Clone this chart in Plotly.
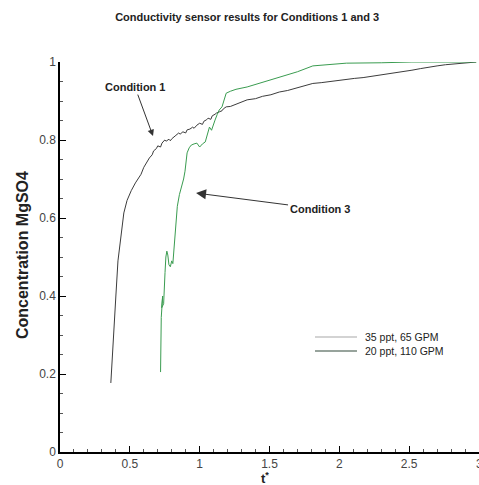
import plotly.graph_objects as go

# Condition 1: 35 ppt, 65 GPM
cond1_t = [0.364, 0.37, 0.38, 0.39, 0.40, 0.415, 0.43, 0.44, 0.457, 0.48, 0.51, 0.54,
           0.56, 0.58, 0.60, 0.62, 0.64, 0.66, 0.67, 0.69, 0.70, 0.72, 0.73, 0.75, 0.76,
           0.78, 0.79, 0.80, 0.82, 0.83, 0.85, 0.86, 0.88, 0.90, 0.91, 0.93, 0.95, 0.96,
           0.98, 1.00, 1.02, 1.03, 1.05, 1.06, 1.08, 1.09, 1.11, 1.12, 1.14, 1.16, 1.17,
           1.19, 1.22, 1.25, 1.29, 1.34, 1.40, 1.45, 1.51, 1.57, 1.63, 1.70, 1.75, 1.81,
           1.87, 1.93, 1.99, 2.05, 2.11, 2.17, 2.23, 2.29, 2.35, 2.40, 2.46, 2.52, 2.58,
           2.64, 2.70, 2.76, 2.82, 2.88, 2.93, 2.98]
cond1_c = [0.177, 0.21, 0.27, 0.33, 0.40, 0.49, 0.54, 0.57, 0.613, 0.645, 0.67, 0.69,
           0.70, 0.712, 0.73, 0.742, 0.754, 0.762, 0.772, 0.778, 0.785, 0.782, 0.792, 0.80,
           0.797, 0.802, 0.798, 0.803, 0.808, 0.812, 0.818, 0.815, 0.821, 0.818, 0.826,
           0.828, 0.833, 0.830, 0.838, 0.843, 0.840, 0.848, 0.852, 0.856, 0.853, 0.862,
           0.866, 0.869, 0.872, 0.875, 0.880, 0.885, 0.886, 0.890, 0.895, 0.903, 0.906,
           0.912, 0.916, 0.923, 0.927, 0.934, 0.938, 0.945, 0.947, 0.950, 0.953, 0.956,
           0.958, 0.960, 0.963, 0.967, 0.970, 0.973, 0.976, 0.979, 0.983, 0.987, 0.990,
           0.993, 0.995, 0.997, 0.999, 1.0]

# Condition 3: 20 ppt, 110 GPM
cond3_t = [0.72, 0.72, 0.722, 0.725, 0.735, 0.728, 0.742, 0.745, 0.752, 0.758, 0.765,
           0.772, 0.78, 0.79, 0.80, 0.808, 0.815, 0.822, 0.83, 0.84, 0.855, 0.87, 0.885,
           0.895, 0.91, 0.925, 0.94, 0.96, 0.98, 1.00, 1.02, 1.04, 1.055, 1.07, 1.085,
           1.10, 1.11, 1.125, 1.14, 1.16, 1.175, 1.19, 1.22, 1.26, 1.34, 1.45, 1.57,
           1.70, 1.81, 1.93, 2.05, 2.30, 2.52, 2.80, 2.98]
cond3_c = [0.205, 0.26, 0.31, 0.345, 0.40, 0.37, 0.38, 0.42, 0.46, 0.50, 0.515,
           0.505, 0.48, 0.475, 0.49, 0.483, 0.52, 0.55, 0.59, 0.63, 0.66, 0.677, 0.70,
           0.72, 0.767, 0.78, 0.787, 0.79, 0.792, 0.782, 0.79, 0.795, 0.815, 0.833, 0.825,
           0.845, 0.851, 0.865, 0.877, 0.885, 0.905, 0.92, 0.925, 0.93, 0.936, 0.948, 0.96,
           0.975, 0.99, 0.994, 0.997, 0.998, 1.0, 1.0, 1.0]

series_names = ["35 ppt, 65 GPM", "20 ppt, 110 GPM"]
legend_colors = ["#c4c4c4", "#75857b"]
x_ticks = [0, 0.5, 1, 1.5, 2, 2.5, 3]
x_tick_labels = ["0", "0.5", "1", "1.5", "2", "2.5", "3"]
y_ticks = [0, 0.2, 0.4, 0.6, 0.8, 1]
y_tick_labels = ["0", "0.2", "0.4", "0.6", "0.8", "1"]

FONT = "Liberation Sans, Arial, sans-serif"

fig = go.Figure()
fig.add_trace(go.Scatter(x=cond1_t, y=cond1_c, mode="lines", name=series_names[0],
                         showlegend=False, line=dict(color="#3c3c3c", width=1)))
fig.add_trace(go.Scatter(x=cond3_t, y=cond3_c, mode="lines", name=series_names[1],
                         showlegend=False, line=dict(color="#3a9c50", width=1)))

axis_common = dict(
    showgrid=False, zeroline=False, showline=True, linecolor="#000", linewidth=1.5,
    ticks="inside", ticklen=6, tickwidth=1.2, tickcolor="#000",
    tickfont=dict(family=FONT, size=12, color="#444"),
)
fig.update_xaxes(range=[0, 3], tickvals=x_ticks[:-1], ticktext=x_tick_labels[:-1],
                 minor=dict(dtick=0.1, ticks="inside", ticklen=3, tickcolor="#555"),
                 **axis_common)
fig.update_yaxes(range=[0, 1], tickvals=y_ticks, ticktext=y_tick_labels,
                 minor=dict(dtick=0.05, ticks="inside", ticklen=3, tickcolor="#555"),
                 **axis_common)

# last x tick label sits on the page edge
fig.add_annotation(x=x_ticks[-1], yref="paper", y=-0.0295, text=x_tick_labels[-1],
                   showarrow=False, xanchor="center", yanchor="middle",
                   font=dict(family=FONT, size=12, color="#444"))

fig.update_layout(
    width=479, height=485,
    margin=dict(l=60, r=0, t=62, b=33),
    paper_bgcolor="white", plot_bgcolor="white",
    title=dict(text="<b>Conductivity sensor results for Conditions 1 and 3</b>",
               x=0.516, xanchor="center", y=1 - 17 / 485, yanchor="middle",
               font=dict(family=FONT, size=11, color="#222")),
    showlegend=False,
)

# hand-placed legend box
legend_rows_y = [0.295, 0.259]
for name, color, ly in zip(series_names, legend_colors, legend_rows_y):
    fig.add_shape(type="line", xref="paper", yref="paper", x0=0.6086, x1=0.7088,
                  y0=ly, y1=ly, line=dict(color=color, width=1.5))
    fig.add_annotation(xref="paper", yref="paper", x=0.7232, y=ly, text=name,
                       showarrow=False, xanchor="left", yanchor="middle",
                       font=dict(family=FONT, size=10.5, color="#222"))

fig.add_annotation(xref="paper", yref="paper", x=-0.0907, y=0.505, xanchor="center",
                   yanchor="middle", text="<b>Concentration MgSO4</b>", textangle=-90,
                   showarrow=False, font=dict(family=FONT, size=16, color="#222"))
fig.add_annotation(x=1.47, yref="paper", y=-0.067, xanchor="center", yanchor="middle",
                   text="<b>t<sup>*</sup></b>", borderpad=0,
                   showarrow=False, font=dict(family=FONT, size=13, color="#222"))

fig.add_annotation(x=0.666, y=0.81, ax=-18, ay=-49, text="<b>Condition 1</b>",
                   showarrow=True, arrowhead=2, arrowsize=1.3, arrowwidth=1,
                   arrowcolor="#333", font=dict(family=FONT, size=11, color="#222"))
fig.add_annotation(x=0.974, y=0.664, ax=124, ay=16, text="<b>Condition 3</b>",
                   showarrow=True, arrowhead=2, arrowsize=2, arrowwidth=1,
                   arrowcolor="#333", font=dict(family=FONT, size=11, color="#222"))

fig.write_html("out.html")
